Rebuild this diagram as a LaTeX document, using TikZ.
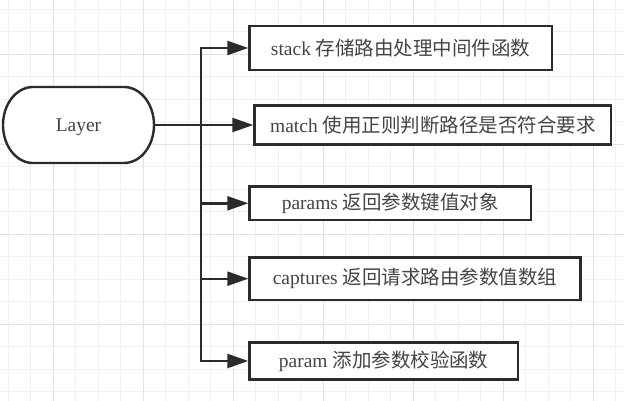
\documentclass[tikz,border=0pt]{standalone}
\usepackage{fontspec}
\setmainfont{Liberation Serif}
\newfontfamily\cjk{Noto Sans CJK SC}
\usetikzlibrary{arrows.meta}
\definecolor{inkc}{HTML}{2B2B2B}
\definecolor{textc}{HTML}{444444}
\definecolor{gridminor}{HTML}{F0F0F0}
\definecolor{gridmajor}{HTML}{E2E2E2}
\tikzset{
  labelfont/.style={text=textc, font=\fontsize{19.5}{22}\selectfont},
  box/.style={draw=inkc, line width=2.4pt, fill=white, labelfont, inner sep=0pt, anchor=west},
  link/.style={draw=inkc, line width=2.4pt, -{Triangle[length=21pt,width=14pt]}},
  outline/.style={draw=inkc, line width=2.4pt, fill=white},
}
\begin{document}
\begin{tikzpicture}[x=1pt,y=-1pt]
\useasboundingbox (0,0) rectangle (624,401);
\fill[white] (0,0) rectangle (624,401);
% background grid
\foreach \i in {0,...,27} {
  \draw[gridminor, line width=0.9pt] (8.3+22.5*\i,0) -- ++(0,401);
}
\foreach \i in {0,...,17} {
  \draw[gridminor, line width=0.9pt] (0,9+22.5*\i) -- ++(624,0);
}
\foreach \i in {0,...,6} {
  \draw[gridmajor, line width=0.9pt] (53.3+90*\i,0) -- ++(0,401);
}
\foreach \i in {0,...,4} {
  \draw[gridmajor, line width=0.9pt] (0,54+90*\i) -- ++(624,0);
}
% terminator shape
\draw[outline] (33,87) -- (124,87)
  arc[start angle=-90, end angle=90, x radius=30, y radius=38]
  -- (33,163)
  arc[start angle=90, end angle=270, x radius=30, y radius=38] -- cycle;
\node[minimum width=151pt, minimum height=76pt, inner sep=0pt] (layer) at (78.5,125) {};
\node[labelfont] (layertext) at (78.5,127) {Layer};
% member boxes
\node[box, minimum width=302.4pt, minimum height=44pt] (stack) at (248.3,48) {stack {\cjk 存储路由处理中间件函数}};
\node[box, minimum width=356.7pt, minimum height=39.3pt] (match) at (253.3,125) {match {\cjk 使用正则判断路径是否符合要求}};
\node[box, minimum width=281.7pt, minimum height=33.3pt] (params) at (248.3,203.3) {params {\cjk 返回参数键值对象}};
\node[box, minimum width=331pt, minimum height=42.7pt] (captures) at (248.3,278.7) {captures {\cjk 返回请求路由参数值数组}};
\node[box, minimum width=268.4pt, minimum height=37pt] (param) at (248.3,361) {param {\cjk 添加参数校验函数}};
% connectors
\coordinate (trunk) at (201,125);
\draw[link] (layer.east) -- (match.west);
\draw[link] (layer.east) -- (trunk) |- (stack.west);
\draw[link] (layer.east) -- (trunk) |- (params.west);
\draw[link] (layer.east) -- (trunk) |- (captures.west);
\draw[link] (layer.east) -- (trunk) |- (param.west);
\end{tikzpicture}
\end{document}
